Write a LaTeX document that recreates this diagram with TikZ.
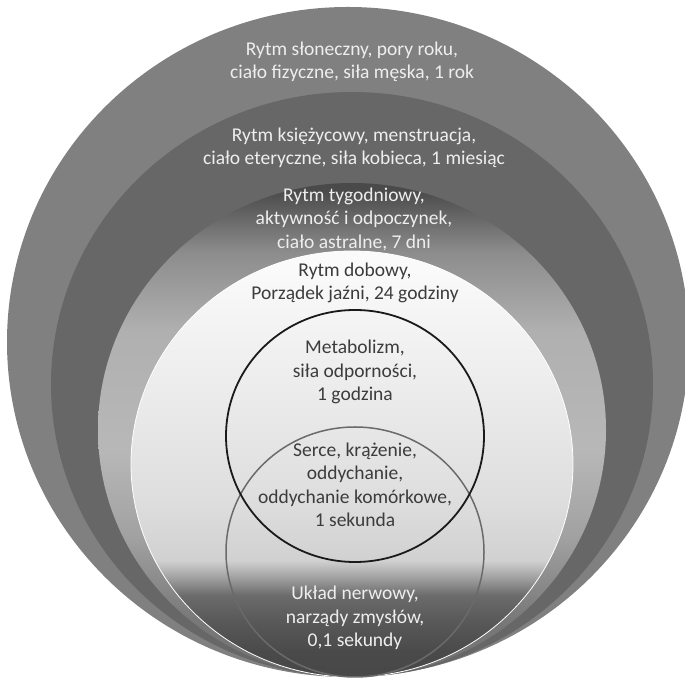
\documentclass[tikz,border=0pt]{standalone}
\usepackage{fontspec}
\setmainfont{Carlito}
\usetikzlibrary{positioning}

\definecolor{sungray}{HTML}{808080}
\definecolor{moongray}{HTML}{676767}
\definecolor{lighttext}{HTML}{EEEEEE}
\definecolor{darktext}{HTML}{3C3C3C}
\definecolor{metaline}{HTML}{1A1A1A}
\definecolor{heartline}{HTML}{6A6A6A}

\pgfdeclareverticalshading{weekshade}{100bp}{color(0bp)=(black!55); color(25bp)=(black!55);
  color(30.8bp)=(black!53); color(39bp)=(black!37); color(48bp)=(black!28);
  color(60bp)=(black!31); color(68bp)=(black!45); color(74.3bp)=(black!71); color(100bp)=(black!71)}
\pgfdeclareverticalshading{dayshade}{100bp}{color(0bp)=(black!72); color(25bp)=(black!72);
  color(28bp)=(black!71); color(31.7bp)=(black!65); color(34.6bp)=(black!58);
  color(37bp)=(black!34); color(38.7bp)=(black!18); color(45.8bp)=(black!13);
  color(57.5bp)=(black!8); color(72.8bp)=(black!2); color(100bp)=(black!2)}

\begin{document}
\begin{tikzpicture}[x=1pt,y=1pt,
    ringtext/.style={align=center,font=\fontsize{19.5}{23.5}\selectfont,inner sep=0pt},
    ondark/.style={ringtext,text=lighttext},
    onlight/.style={ringtext,text=darktext}]
\useasboundingbox (0,0) rectangle (685,679);

\fill[sungray] (348,337) ellipse [x radius=341,y radius=335];
\fill[moongray] (352,294.5) ellipse [x radius=301,y radius=292.5];
\shade[shading=weekshade] (352,249) ellipse [x radius=254,y radius=247];
\shade[shading=dayshade] (352,215) ellipse [x radius=221,y radius=213];
\draw[white,line width=0.8pt] (352,215) ellipse [x radius=221,y radius=213];
\draw[heartline,line width=1.5pt] (355,127) ellipse [x radius=129,y radius=125];
\draw[metaline,line width=1.8pt] (355,243) ellipse [x radius=129,y radius=126];

\node[ondark] at (352,617) (sun) {Rytm słoneczny, pory roku,\\ciało fizyczne, siła męska, 1 rok};
\node[ondark] at (354,531) (moon) {Rytm księżycowy, menstruacja,\\ciało eteryczne, siła kobieca, 1 miesiąc};
\node[ondark] at (354,460) (week) {Rytm tygodniowy,\\aktywność i odpoczynek,\\ciało astralne, 7 dni};
\node[onlight] at (355,396) (day) {Rytm dobowy,\\Porządek jaźni, 24 godziny};
\node[onlight] at (355,307) (meta) {Metabolizm,\\siła odporności,\\1 godzina};
\node[onlight] at (355,194) (heart) {Serce, krążenie,\\oddychanie,\\oddychanie komórkowe,\\1 sekunda};
\node[ondark] at (355,61) (nerve) {Układ nerwowy,\\narządy zmysłów,\\0,1 sekundy};
\end{tikzpicture}
\end{document}
